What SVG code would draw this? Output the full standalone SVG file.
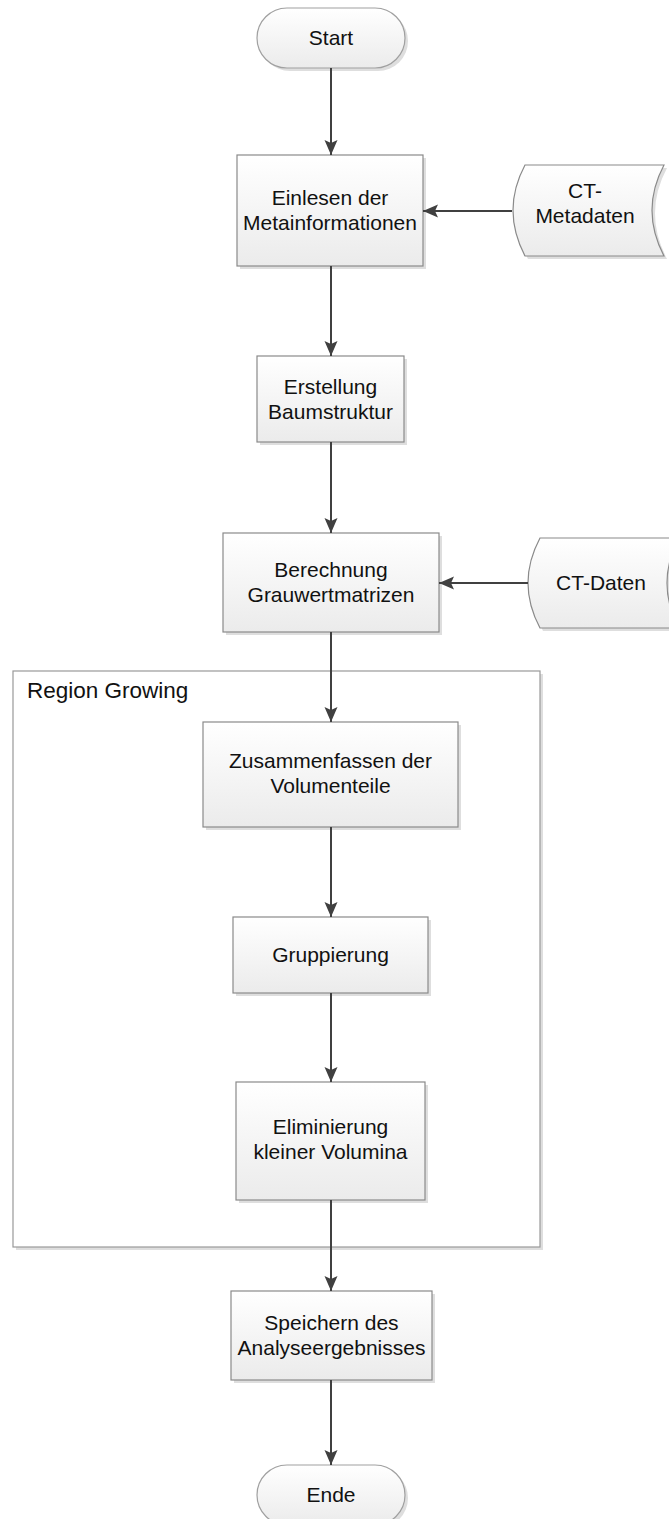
<svg xmlns="http://www.w3.org/2000/svg" width="669" height="1519" viewBox="0 0 669 1519">
<defs>
<linearGradient id="g" x1="0" y1="0" x2="0" y2="1">
<stop offset="0" stop-color="#ffffff"/>
<stop offset="1" stop-color="#ebebeb"/>
</linearGradient>
<marker id="arr" markerUnits="userSpaceOnUse" markerWidth="16" markerHeight="16" viewBox="0 0 16 16" refX="15" refY="8" orient="auto">
<path d="M0,1.5 L15,8 L0,14.5 L3,8 Z" fill="#404040"/>
</marker>
</defs>
<style>
.box{fill:url(#g);stroke:#8a8a8a;stroke-width:1.2}
.sh{fill:#dedede}
.term{fill:url(#g);stroke:#a0a0a0;stroke-width:1.2}
.cont{fill:#ffffff;stroke:#999999;stroke-width:1.2}
.t{font-family:"Liberation Sans",Arial,sans-serif;font-size:21px;fill:#111111;text-anchor:middle}
.tl{font-family:"Liberation Sans",Arial,sans-serif;font-size:22.5px;fill:#111111}
.c{stroke:#404040;stroke-width:2;fill:none;marker-end:url(#arr)}
</style>

<g id="container">
<rect class="sh" x="16" y="674" width="527" height="576"/>
<rect class="cont" x="13" y="671" width="527" height="576"/>
<text class="tl" x="27" y="698">Region Growing</text>
</g>

<g id="start">
<rect class="sh" x="260" y="11" width="148" height="60" rx="30"/>
<rect class="term" x="257" y="8" width="148" height="60" rx="30"/>
<text class="t" x="331" y="45">Start</text>
</g>

<g id="einlesen">
<rect class="sh" x="240" y="158" width="186" height="111"/>
<rect class="box" x="237" y="155" width="186" height="111"/>
<text class="t" x="330" y="205">Einlesen der</text>
<text class="t" x="330" y="230">Metainformationen</text>
</g>

<g id="ctmeta">
<path class="sh" d="M528,168 L667,168 Q643,213 667,259 L528,259 Q504,213 528,168 Z"/>
<path class="box" d="M525,165 L664,165 Q640,210 664,256 L525,256 Q501,210 525,165 Z"/>
<text class="t" x="585" y="198">CT-</text>
<text class="t" x="585" y="223">Metadaten</text>
</g>

<g id="erstellung">
<rect class="sh" x="260" y="359" width="147" height="86"/>
<rect class="box" x="257" y="356" width="147" height="86"/>
<text class="t" x="330.5" y="394">Erstellung</text>
<text class="t" x="330.5" y="419">Baumstruktur</text>
</g>

<g id="berechnung">
<rect class="sh" x="226" y="536" width="216" height="99"/>
<rect class="box" x="223" y="533" width="216" height="99"/>
<text class="t" x="331" y="577">Berechnung</text>
<text class="t" x="331" y="602">Grauwertmatrizen</text>
</g>

<g id="ctdaten">
<path class="sh" d="M543,541 L682,541 Q658,586 682,631 L543,631 Q519,586 543,541 Z"/>
<path class="box" d="M540,538 L679,538 Q655,583 679,628 L540,628 Q516,583 540,538 Z"/>
<text class="t" x="601" y="590">CT-Daten</text>
</g>

<g id="zusammenfassen">
<rect class="sh" x="206" y="725" width="255" height="105"/>
<rect class="box" x="203" y="722" width="255" height="105"/>
<text class="t" x="330.5" y="768">Zusammenfassen der</text>
<text class="t" x="330.5" y="793">Volumenteile</text>
</g>

<g id="gruppierung">
<rect class="sh" x="236" y="920" width="195" height="76"/>
<rect class="box" x="233" y="917" width="195" height="76"/>
<text class="t" x="330.5" y="962">Gruppierung</text>
</g>

<g id="eliminierung">
<rect class="sh" x="239" y="1085" width="189" height="118"/>
<rect class="box" x="236" y="1082" width="189" height="118"/>
<text class="t" x="330.5" y="1134">Eliminierung</text>
<text class="t" x="330.5" y="1159">kleiner Volumina</text>
</g>

<g id="speichern">
<rect class="sh" x="234" y="1294" width="201" height="89"/>
<rect class="box" x="231" y="1291" width="201" height="89"/>
<text class="t" x="331.5" y="1330">Speichern des</text>
<text class="t" x="331.5" y="1355">Analyseergebnisses</text>
</g>

<g id="ende">
<rect class="sh" x="260" y="1468" width="148" height="60" rx="30"/>
<rect class="term" x="257" y="1465" width="148" height="60" rx="30"/>
<text class="t" x="331" y="1502">Ende</text>
</g>

<g id="connectors">
<line class="c" x1="331" y1="68" x2="331" y2="155"/>
<line class="c" x1="331" y1="266" x2="331" y2="356"/>
<line class="c" x1="512" y1="211" x2="423" y2="211"/>
<line class="c" x1="331" y1="442" x2="331" y2="533"/>
<line class="c" x1="528" y1="583" x2="439" y2="583"/>
<line class="c" x1="331" y1="632" x2="331" y2="722"/>
<line class="c" x1="331" y1="827" x2="331" y2="917"/>
<line class="c" x1="331" y1="993" x2="331" y2="1082"/>
<line class="c" x1="331" y1="1200" x2="331" y2="1291"/>
<line class="c" x1="331" y1="1380" x2="331" y2="1465"/>
</g>
</svg>
